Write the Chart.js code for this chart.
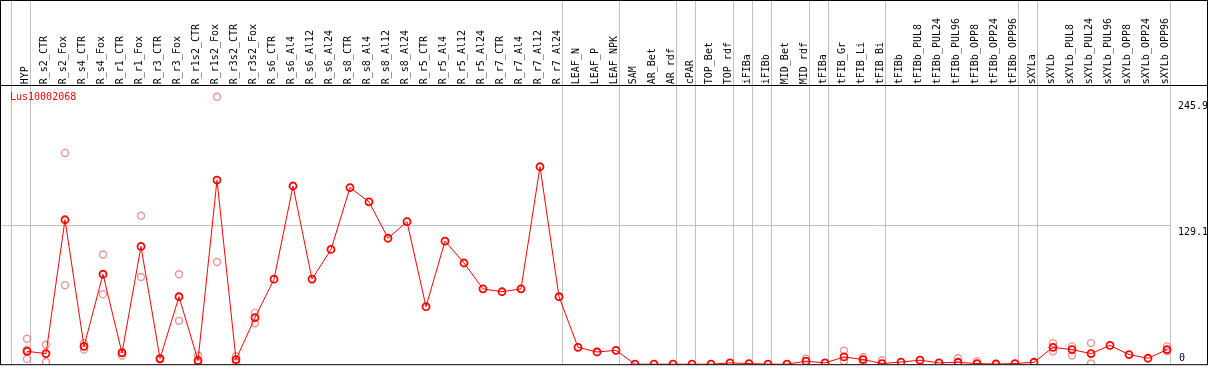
<!DOCTYPE html>
<html>
<head>
<meta charset="utf-8">
<script src="https://cdn.jsdelivr.net/npm/chart.js@4"></script>
<style>
  html, body { margin: 0; padding: 0; background: #fff; }
  #wrap { width: 1209px; height: 370px; }
</style>
</head>
<body>
<div id="wrap"><canvas id="exprChart" width="1209" height="370"></canvas></div>
<script>
// sample names (x categories)
var samples = ["HYP", "R_s2_CTR", "R_s2_Fox", "R_s4_CTR", "R_s4_Fox", "R_r1_CTR", "R_r1_Fox",
    "R_r3_CTR", "R_r3_Fox", "R_r1s2_CTR", "R_r1s2_Fox", "R_r3s2_CTR", "R_r3s2_Fox",
    "R_s6_CTR", "R_s6_Al4", "R_s6_Al12", "R_s6_Al24", "R_s8_CTR", "R_s8_Al4", "R_s8_Al12", "R_s8_Al24",
    "R_r5_CTR", "R_r5_Al4", "R_r5_Al12", "R_r5_Al24", "R_r7_CTR", "R_r7_Al4", "R_r7_Al12", "R_r7_Al24",
    "LEAF_N", "LEAF_P", "LEAF_NPK", "SAM", "AR_Bet", "AR_rdf", "cPAR", "TOP_Bet", "TOP_rdf",
    "iFIBa", "iFIBb", "MID_Bet", "MID_rdf", "tFIBa", "tFIB_Gr", "tFIB_Li", "tFIB_Bi", "tFIBb",
    "tFIBb_PUL8", "tFIBb_PUL24", "tFIBb_PUL96", "tFIBb_OPP8", "tFIBb_OPP24", "tFIBb_OPP96",
    "sXYLa", "sXYLb", "sXYLb_PUL8", "sXYLb_PUL24", "sXYLb_PUL96", "sXYLb_OPP8", "sXYLb_OPP24", "sXYLb_OPP96"];

// mean expression per sample
var meanValues = [11.9, 9.8, 133.6, 16.5, 83.2, 10.4, 108.9, 5.2, 62.4, 3.4, 170.3, 4.3, 43.1,
    78.6, 164.8, 78.7, 106.1, 163.3, 150.2, 116.5, 131.8,
    53.2, 113.8, 93.6, 69.7, 67.0, 69.7, 182.6, 62.4,
    15.6, 11.3, 12.8, 0, 0, 0, 0, 0, 1.2,
    0.6, 0, 0, 2.8, 1.2, 6.7, 4.3, 0.6, 2.0,
    3.7, 1.2, 1.8, 0.6, 0.2, 0.6,
    1.8, 15.6, 13.5, 9.8, 17.4, 8.9, 5.5, 13.5];

// individual replicates (only where they differ visibly from the mean)
var replicates = [[23.6, 13.5, 4.9], [18.0, 2.1], [195.4, 73.1], [19.5, 13.5], [101.5, 64.8],
    [11.3, 8.0], [137.3, 80.7], [5.5, 4.3], [83.2, 40.1], [8.0, 1.2], [247.4, 94.5], [7.3, 1.8], [47.7, 37.9],
    [], [], [], [], [], [], [], [],
    [], [], [], [], [], [], [], [],
    [], [], [], [], [], [], [], [], [],
    [], [], [], [5.2], [], [12.6, 2.8], [6.4, 1.2], [3.7], [],
    [], [], [5.5], [2.8], [], [],
    [], [19.5, 11.9], [16.5, 8.0], [19.5, 0.6], [], [], [], [16.5, 11.9]];

// y tick labels and group separators (index of first sample in each group)
var yTicks = [0, 129.1, 245.9];
var groupStarts = [0, 1, 29, 32, 35, 36, 38, 39, 40, 42, 43, 46, 53, 54, 61];
var geneName = "Lus10002068";

var replicatePoints = [];
replicates.forEach(function (vals, i) {
    vals.forEach(function (v) { replicatePoints.push({ x: samples[i], y: v }); });
});

var framePlugin = {
    id: "frame",
    beforeDatasetsDraw: function (chart) {
        var c = chart.ctx, a = chart.chartArea, xs = chart.scales.x, ys = chart.scales.y;
        var step = xs.getPixelForValue(1) - xs.getPixelForValue(0);
        c.save();
        c.strokeStyle = "#c0c0c0";
        c.lineWidth = 1;
        groupStarts.forEach(function (g) {
            var x = Math.round(xs.getPixelForValue(0) + (g - 1) * step + 3) + 0.5;
            c.beginPath(); c.moveTo(x, 0); c.lineTo(x, a.bottom); c.stroke();
        });
        var gx = Math.round(xs.getPixelForValue(0) + 60 * step + 3) + 0.5;
        var y1 = Math.round(ys.getPixelForValue(yTicks[1])) + 0.5;
        c.beginPath(); c.moveTo(0, y1); c.lineTo(gx, y1); c.stroke();
        c.restore();
    },
    afterDraw: function (chart) {
        var c = chart.ctx, a = chart.chartArea, xs = chart.scales.x, ys = chart.scales.y;
        var step = xs.getPixelForValue(1) - xs.getPixelForValue(0);
        var gx = Math.round(xs.getPixelForValue(0) + 60 * step + 3);
        c.save();
        c.strokeStyle = "#000";
        c.lineWidth = 1;
        c.strokeRect(0.5, 0.5, 1207, a.bottom);
        c.beginPath(); c.moveTo(0, Math.round(a.top) + 0.5); c.lineTo(1207.5, Math.round(a.top) + 0.5); c.stroke();
        c.font = "10px 'DejaVu Sans Mono'";
        c.fillStyle = "#000";
        c.textAlign = "left";
        yTicks.forEach(function (t) {
            var y = ys.getPixelForValue(t);
            if (t === 0) { c.textBaseline = "bottom"; c.fillText("0", gx + 9, y - 1); }
            else { c.textBaseline = "top"; c.fillText(String(t), gx + 8, y + 3); }
        });
        c.fillStyle = "red";
        c.textBaseline = "top";
        c.fillText(geneName, 10, a.top + 7);
        c.restore();
    }
};

document.addEventListener("DOMContentLoaded", function () {
    var ctx = document.getElementById("exprChart").getContext("2d");

    var exprChart = new Chart(ctx, {
        type: "line",
        data: {
            labels: samples,
            datasets: [
                {
                    label: "mean",
                    data: meanValues,
                    borderColor: "red",
                    borderWidth: 1,
                    pointRadius: 3.5,
                    pointBorderWidth: 1.8,
                    pointBorderColor: "red",
                    pointBackgroundColor: "rgba(0,0,0,0)",
                    tension: 0,
                    order: 1,
                },
                {
                    type: "scatter",
                    label: "replicates",
                    data: replicatePoints,
                    showLine: false,
                    pointRadius: 3.5,
                    pointBorderWidth: 1.4,
                    pointBorderColor: "rgba(235, 110, 110, 0.75)",
                    pointBackgroundColor: "rgba(0,0,0,0)",
                    order: 2,
                },
            ],
        },
        options: {
            responsive: false,
            animation: false,
            events: [],
            layout: { padding: { left: 17.5, right: 32.5, top: 17, bottom: 1 } },
            plugins: { legend: { display: false }, tooltip: { enabled: false } },
            scales: {
                x: {
                    type: "category",
                    position: "top",
                    offset: true,
                    grid: { display: false, drawTicks: false },
                    border: { display: false },
                    ticks: {
                        autoSkip: false,
                        minRotation: 90,
                        maxRotation: 90,
                        padding: 1,
                        labelOffset: 10,
                        color: "#000",
                        font: { family: "'DejaVu Sans Mono'", size: 10 },
                    },
                },
                y: {
                    display: false,
                    min: 0,
                    max: 258,
                },
            },
        },
        plugins: [framePlugin],
    });
});
</script>
</body>
</html>
